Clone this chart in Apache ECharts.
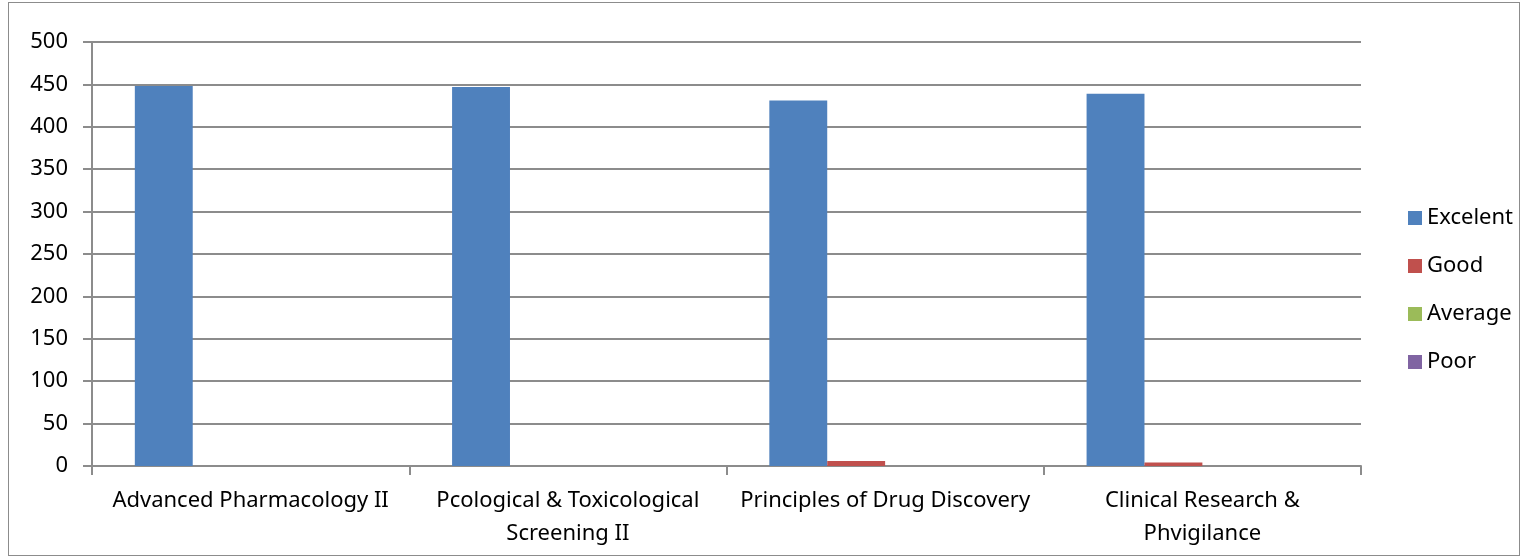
<!DOCTYPE html>
<html>
<head>
<meta charset="utf-8">
<script src="https://cdn.jsdelivr.net/npm/echarts@6/dist/echarts.min.js"></script>
<style>
  html, body { margin: 0; padding: 0; background: #fff; }
  #frame { position: absolute; left: 8px; top: 2px; width: 1512px; height: 554px; border: 1px solid #8c8c8c; box-sizing: border-box; }
  #chart { position: absolute; left: 0; top: 0; width: 1523px; height: 560px; }
</style>
</head>
<body>
<div id="frame"></div>
<div id="chart"></div>
<script>
// 课程与评价
const categories = [
  "Advanced Pharmacology II",
  "Pcological & Toxicological\nScreening II",
  "Principles of Drug Discovery",
  "Clinical Research &\nPhvigilance"
]
const seriesNames = ["Excelent", "Good", "Average", "Poor"]
const excelent = [448, 447, 431, 439]
const good = [0, 0, 6, 4]
const average = [0, 0, 0, 0]
const poor = [0, 0, 0, 0]
const yTicks = [0, 50, 100, 150, 200, 250, 300, 350, 400, 450, 500]

const colors = ["#4F81BD", "#C0504D", "#9BBB59", "#8064A2"]
const font = "Noto Sans"

const chart = echarts.init(document.getElementById("chart"))
chart.setOption({
  animation: false,
  color: colors,
  grid: { left: 92, right: 162, top: 42, bottom: 94 },
  legend: {
    orient: "vertical",
    top: 198,
    left: 1403,
    itemWidth: 14,
    itemHeight: 14,
    itemGap: 18,
    icon: "rect",
    data: seriesNames,
    textStyle: { fontFamily: font, fontSize: 22, color: "#000", lineHeight: 30 }
  },
  xAxis: {
    type: "category",
    data: categories,
    axisLine: { lineStyle: { color: "#8c8c8c", width: 2 } },
    axisTick: { show: true, length: 9, lineStyle: { color: "#8c8c8c", width: 2 } },
    axisLabel: {
      interval: 0,
      margin: 18,
      fontFamily: font,
      fontSize: 22,
      color: "#000",
      lineHeight: 33
    }
  },
  yAxis: {
    type: "value",
    min: yTicks[0],
    max: yTicks[yTicks.length - 1],
    interval: 50,
    axisLine: { show: true, lineStyle: { color: "#8c8c8c", width: 2 } },
    axisTick: { show: true, length: 9, lineStyle: { color: "#8c8c8c", width: 2 } },
    splitLine: { lineStyle: { color: "#8c8c8c", width: 2 } },
    axisLabel: { margin: 24, fontFamily: font, fontSize: 22, color: "#000" }
  },
  series: [
    { name: seriesNames[0], type: "bar", data: excelent, barGap: "0%", barCategoryGap: "27%" },
    { name: seriesNames[1], type: "bar", data: good },
    { name: seriesNames[2], type: "bar", data: average },
    { name: seriesNames[3], type: "bar", data: poor }
  ]
})
</script>
</body>
</html>
